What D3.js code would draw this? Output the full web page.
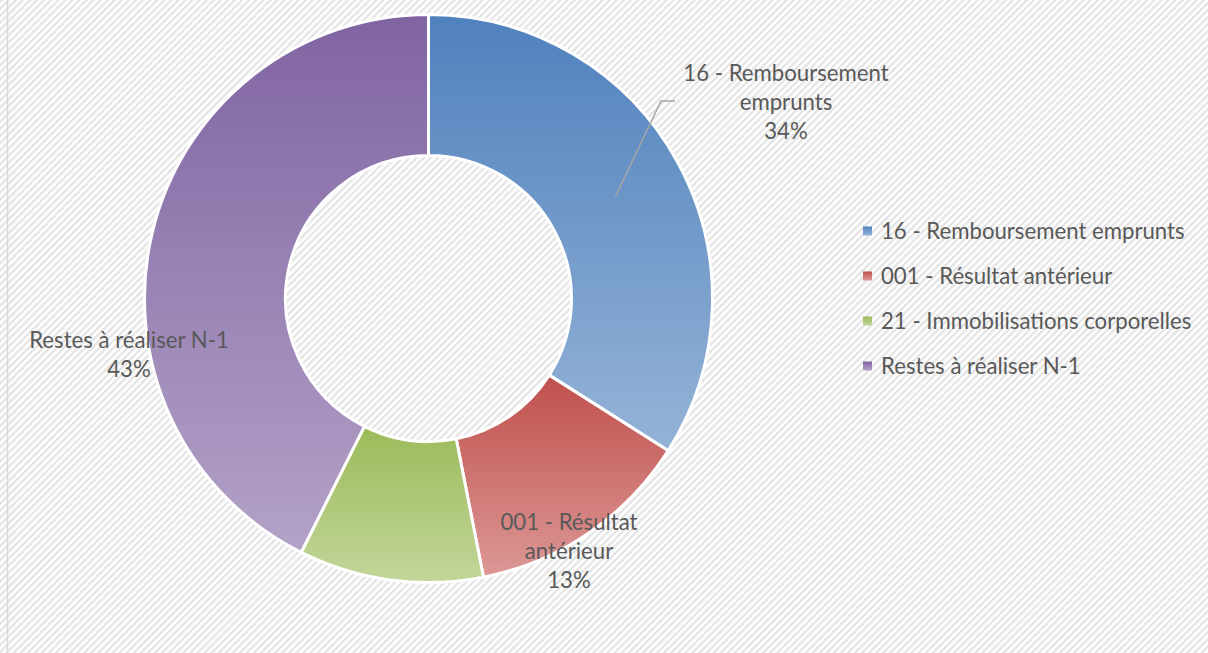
<!DOCTYPE html>
<html>
<head>
<meta charset="utf-8">
<script src="https://cdn.jsdelivr.net/npm/d3@7"></script>
<style>
    body { margin: 0; background: #fff; }
    svg text { font-family: Lato, "Open Sans", sans-serif; fill: #595959; }
</style>
</head>
<body>
<script>
const WIDTH = 1208
const HEIGHT = 653

const categories = ["16 - Remboursement emprunts", "001 - Résultat antérieur", "21 - Immobilisations corporelles", "Restes à réaliser N-1"]
const values = [34.0, 12.9, 10.5, 42.6]
const darkColors = ["#4f81bd", "#c0504d", "#9bbb59", "#8064a2"]
const lightColors = ["#95b3d7", "#dc9896", "#c3d69b", "#b3a2c7"]
// label lines per slice (null = no label shown)
const labelLines = [["16 - Remboursement", "emprunts", "34%"], ["001 - Résultat", "antérieur", "13%"], null, ["Restes à réaliser N-1", "43%"]]

const CENTER = { x: 428.5, y: 298.5 }
const OUTER = 284
const INNER = 143
const FONT_SIZE = 22.2

const svg = d3.select("body")
    .append("svg")
    .attr("width", WIDTH)
    .attr("height", HEIGHT)

const defs = svg.append("defs")

const pattern = defs.append("pattern")
    .attr("id", "stripes")
    .attr("patternUnits", "userSpaceOnUse")
    .attr("width", 5)
    .attr("height", 5)
    .attr("patternTransform", "rotate(45)")
pattern.append("rect").attr("width", 5).attr("height", 5).attr("fill", "#ffffff")
pattern.append("rect").attr("width", 2.4).attr("height", 5).attr("fill", "#e4e4e4")

svg.append("rect")
    .attr("width", WIDTH)
    .attr("height", HEIGHT)
    .attr("fill", "url(#stripes)")

svg.append("line")
    .attr("x1", 7.5).attr("x2", 7.5)
    .attr("y1", 0).attr("y2", HEIGHT)
    .attr("stroke", "#d9d9d9")
    .attr("stroke-width", 1.5)

categories.forEach((c, i) => {
    const g = defs.append("linearGradient")
        .attr("id", "grad" + i)
        .attr("x1", 0).attr("y1", 0)
        .attr("x2", 0).attr("y2", 1)
    g.append("stop").attr("offset", "0%").attr("stop-color", darkColors[i])
    g.append("stop").attr("offset", "100%").attr("stop-color", lightColors[i])
})

const pie = d3.pie().sort(null).value(d => d)
const arcs = pie(values)

const arc = d3.arc()
    .innerRadius(INNER)
    .outerRadius(OUTER)

const chart = svg.append("g")
    .attr("transform", "translate(" + CENTER.x + "," + CENTER.y + ")")

chart.selectAll("path")
    .data(arcs)
    .enter()
    .append("path")
    .attr("d", arc)
    .attr("fill", (d, i) => "url(#grad" + i + ")")
    .attr("stroke", "#ffffff")
    .attr("stroke-width", 3)

// data labels
const labelPos = [
    { x: 786, y: 73 },
    { x: 569, y: 522 },
    null,
    { x: 129, y: 340 }
]
const LINE_H = 29

arcs.forEach((d, i) => {
    if (!labelLines[i]) return
    const t = svg.append("text")
        .attr("text-anchor", "middle")
        .attr("font-size", FONT_SIZE)
    labelLines[i].forEach((line, j) => {
        t.append("tspan")
            .attr("x", labelPos[i].x)
            .attr("y", labelPos[i].y + j * LINE_H)
            .attr("dy", "0.35em")
            .text(line)
    })
})

// leader line for first slice
svg.append("polyline")
    .attr("points", [
        [CENTER.x + 187, CENTER.y - 102],
        [661, 101],
        [675, 101]
    ].map(p => p.join(",")).join(" "))
    .attr("fill", "none")
    .attr("stroke", "#a6a6a6")
    .attr("stroke-width", 1.5)

// legend
const legend = svg.append("g")
    .attr("transform", "translate(863, 231)")

const items = legend.selectAll("g")
    .data(categories)
    .enter()
    .append("g")
    .attr("transform", (d, i) => "translate(0," + i * 45 + ")")

items.append("rect")
    .attr("x", 0)
    .attr("y", -4.5)
    .attr("width", 9)
    .attr("height", 9)
    .attr("fill", (d, i) => "url(#grad" + i + ")")

items.append("text")
    .attr("x", 18)
    .attr("y", 0)
    .attr("dy", "0.35em")
    .attr("font-size", FONT_SIZE)
    .text(d => d)
</script>
</body>
</html>
